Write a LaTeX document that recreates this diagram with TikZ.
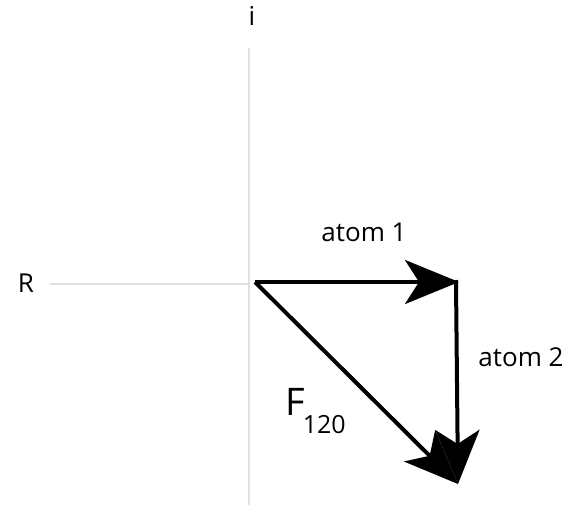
\documentclass[tikz,border=0pt]{standalone}
\usepackage{fontspec}
\setmainfont{Open Sans}
\usetikzlibrary{arrows.meta}
\begin{document}
\begin{tikzpicture}[x=1pt,y=-1pt,
  axis/.style={draw=black!12,line width=1.2pt},
  vec/.style={draw=black,line width=4pt,-{Stealth[length=54pt,width=44pt,inset=14pt]}},
  lbl/.style={font=\fontsize{26}{30}\selectfont,inner sep=0pt,anchor=base}]
\useasboundingbox (0,0) rectangle (573,507);
\coordinate (o) at (255,282);
\coordinate (a) at (459,282);
\coordinate (b) at (458,484);
\coordinate (top) at (249,48);
\coordinate (bot) at (249,505);
\coordinate (left) at (50,284);
\draw[axis] (top) -- (bot);
\draw[axis] (left) -- (249,284);
\node[lbl] (i) at (252,25) {i};
\node[lbl] (R) at (26,292) {R};
\draw[vec] (o) -- (a);
\draw[vec,shorten <=-2pt] (456,282) -- (b);
\draw[vec] (o) -- (b);
\node[lbl] (a1) at (364,241) {atom 1};
\node[lbl] (a2) at (521,366) {atom 2};
\node[inner sep=0pt,anchor=base west,font=\fontsize{38}{42}\selectfont] (F) at (285,415) {F\kern-2pt\raisebox{-18pt}{\fontsize{25}{28}\selectfont 120}};
\end{tikzpicture}
\end{document}
